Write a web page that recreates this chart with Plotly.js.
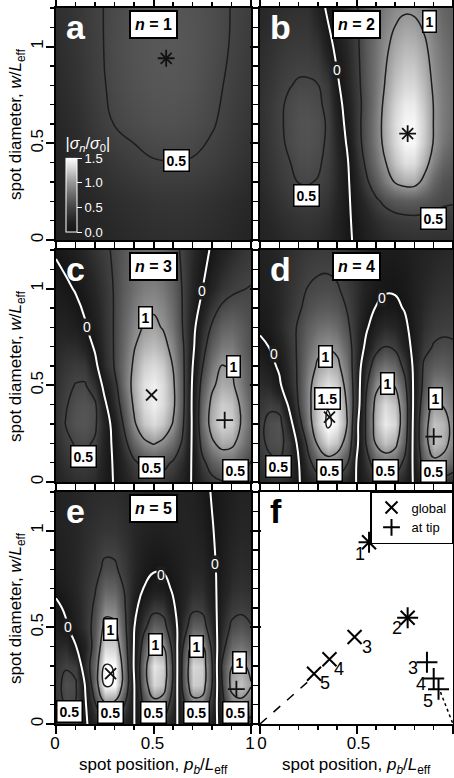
<!DOCTYPE html>
<html><head><meta charset="utf-8">
<script src="https://cdn.plot.ly/plotly-3.0.1.min.js"></script>
<style>html,body{margin:0;padding:0;background:#fff}#chart{width:454px;height:778px}</style>
</head><body><div id="chart"></div>
<script>
// ---------- data ----------
const posA = [0,0.1,0.2,0.3,0.4,0.5,0.6,0.7,0.8,0.9,1];
const diamA = [0,0.2,0.4,0.6,0.8,1.0,1.2];
const pos = [0,0.05,0.1,0.15,0.2,0.25,0.3,0.35,0.4,0.45,0.5,0.55,0.6,0.65,0.7,0.75,0.8,0.85,0.9,0.95,1];
const diam = [0,0.1,0.2,0.3,0.4,0.5,0.6,0.7,0.8,1.0,1.2];
const diamD = [0,0.1,0.2,0.3,0.4,0.5,0.6,0.7,0.8,0.9,1.0,1.2];

// signed sigma_n/sigma_0, rows = diameters, columns = positions
const sigma1 = [
 [0.18,0.20,0.23,0.26,0.29,0.31,0.32,0.31,0.29,0.26,0.22],
 [0.20,0.23,0.27,0.31,0.34,0.37,0.38,0.37,0.34,0.30,0.26],
 [0.22,0.27,0.34,0.40,0.45,0.49,0.495,0.49,0.45,0.39,0.33],
 [0.25,0.31,0.41,0.505,0.55,0.58,0.585,0.56,0.515,0.44,0.37],
 [0.28,0.35,0.45,0.54,0.59,0.62,0.625,0.60,0.54,0.47,0.40],
 [0.30,0.37,0.46,0.55,0.60,0.63,0.635,0.61,0.56,0.49,0.42],
 [0.32,0.38,0.47,0.54,0.59,0.62,0.62,0.60,0.56,0.495,0.44]
];
const sigma2 = [
 [-0.20,-0.23,-0.26,-0.29,-0.31,-0.32,-0.30,-0.26,-0.18,-0.06,0.05,0.15,0.23,0.28,0.31,0.33,0.34,0.34,0.34,0.33,0.33],
 [-0.22,-0.26,-0.30,-0.33,-0.36,-0.37,-0.35,-0.30,-0.20,-0.06,0.08,0.20,0.30,0.37,0.41,0.43,0.44,0.44,0.43,0.42,0.41],
 [-0.25,-0.30,-0.35,-0.40,-0.43,-0.44,-0.42,-0.36,-0.24,-0.07,0.14,0.30,0.45,0.56,0.63,0.66,0.66,0.62,0.57,0.53,0.52],
 [-0.28,-0.34,-0.40,-0.46,-0.505,-0.51,-0.49,-0.42,-0.27,-0.07,0.22,0.45,0.65,0.84,1.02,1.10,1.10,0.93,0.72,0.60,0.56],
 [-0.30,-0.37,-0.43,-0.49,-0.55,-0.56,-0.53,-0.45,-0.27,-0.05,0.30,0.55,0.78,0.99,1.20,1.34,1.33,1.12,0.88,0.72,0.63],
 [-0.32,-0.39,-0.46,-0.53,-0.58,-0.59,-0.56,-0.47,-0.24,0.02,0.38,0.61,0.85,1.08,1.30,1.46,1.46,1.24,0.98,0.82,0.72],
 [-0.33,-0.40,-0.47,-0.54,-0.59,-0.60,-0.57,-0.48,-0.20,0.08,0.40,0.62,0.86,1.10,1.32,1.46,1.46,1.26,0.99,0.85,0.76],
 [-0.34,-0.40,-0.47,-0.53,-0.57,-0.57,-0.54,-0.45,-0.15,0.14,0.40,0.60,0.84,1.07,1.28,1.40,1.40,1.22,0.99,0.85,0.77],
 [-0.33,-0.38,-0.44,-0.49,-0.52,-0.52,-0.505,-0.40,-0.06,0.20,0.42,0.62,0.82,1.02,1.20,1.30,1.30,1.16,0.96,0.84,0.76],
 [-0.30,-0.34,-0.38,-0.41,-0.42,-0.42,-0.36,-0.14,0.10,0.26,0.45,0.64,0.80,0.95,1.08,1.15,1.14,1.05,0.90,0.80,0.72],
 [-0.25,-0.28,-0.31,-0.33,-0.34,-0.33,-0.18,0.06,0.20,0.34,0.48,0.62,0.74,0.85,0.93,0.97,0.96,0.90,0.80,0.72,0.66]
];
const sigma3 = [
 [0.20,0.27,0.32,0.33,0.28,0.11,-0.02,-0.18,-0.32,-0.40,-0.42,-0.40,-0.32,-0.18,0.03,0.28,0.42,0.48,0.48,0.42,0.34],
 [0.25,0.35,0.42,0.43,0.37,0.14,-0.04,-0.25,-0.45,-0.58,-0.62,-0.58,-0.47,-0.28,0.04,0.42,0.65,0.78,0.77,0.64,0.49],
 [0.30,0.44,0.52,0.54,0.47,0.17,-0.08,-0.40,-0.72,-0.93,-1.02,-0.93,-0.76,-0.45,0.05,0.62,0.95,1.10,1.07,0.88,0.65],
 [0.34,0.51,0.60,0.62,0.55,0.20,-0.15,-0.55,-0.95,-1.22,-1.32,-1.22,-0.98,-0.55,0.05,0.75,1.12,1.30,1.25,0.98,0.72],
 [0.35,0.48,0.58,0.60,0.55,0.07,-0.32,-0.66,-1.05,-1.32,-1.42,-1.32,-1.08,-0.60,0.06,0.72,1.08,1.25,1.20,0.95,0.70],
 [0.33,0.44,0.51,0.52,0.32,-0.12,-0.40,-0.78,-1.10,-1.35,-1.42,-1.32,-1.06,-0.60,0.04,0.62,0.95,1.10,1.06,0.85,0.62],
 [0.30,0.38,0.42,0.40,0.10,-0.30,-0.52,-0.78,-1.05,-1.26,-1.32,-1.24,-0.99,-0.58,-0.01,0.48,0.82,1.01,0.98,0.80,0.60],
 [0.26,0.30,0.30,0.20,-0.05,-0.33,-0.52,-0.75,-0.98,-1.13,-1.18,-1.10,-0.90,-0.55,-0.08,0.38,0.68,0.84,0.85,0.72,0.56],
 [0.20,0.20,0.14,0.03,-0.15,-0.35,-0.52,-0.72,-0.90,-1.02,-1.06,-0.98,-0.80,-0.49,-0.12,0.28,0.54,0.70,0.73,0.66,0.56],
 [0.10,0.05,-0.02,-0.12,-0.25,-0.38,-0.52,-0.66,-0.78,-0.86,-0.88,-0.83,-0.70,-0.48,-0.22,-0.01,0.22,0.37,0.45,0.49,0.51],
 [-0.03,-0.10,-0.18,-0.27,-0.36,-0.45,-0.54,-0.63,-0.70,-0.74,-0.75,-0.70,-0.60,-0.45,-0.28,-0.11,0.04,0.18,0.28,0.35,0.40]
];
const sigma4 = [
 [0.27,0.33,0.35,0.27,0.03,-0.20,-0.36,-0.42,-0.38,-0.25,0.01,0.20,0.36,0.42,0.37,0.20,-0.04,-0.26,-0.37,-0.36,-0.30],
 [0.36,0.45,0.48,0.35,0.02,-0.40,-0.70,-0.85,-0.78,-0.55,0.01,0.35,0.68,0.80,0.72,0.42,-0.10,-0.65,-0.93,-0.88,-0.70],
 [0.44,0.55,0.58,0.40,-0.10,-0.60,-1.05,-1.30,-1.20,-0.85,-0.10,0.52,1.02,1.20,1.10,0.65,-0.15,-0.85,-1.20,-1.12,-0.88],
 [0.45,0.56,0.60,0.20,-0.35,-0.85,-1.25,-1.55,-1.42,-1.02,-0.12,0.55,1.15,1.40,1.30,0.75,-0.15,-0.85,-1.20,-1.15,-0.90],
 [0.38,0.46,0.40,-0.06,-0.52,-0.90,-1.25,-1.48,-1.38,-0.98,-0.25,0.55,1.10,1.32,1.20,0.75,-0.12,-0.72,-1.03,-0.98,-0.82],
 [0.30,0.26,0.06,-0.25,-0.55,-0.90,-1.20,-1.35,-1.25,-0.90,-0.25,0.45,0.92,1.08,0.98,0.60,-0.10,-0.60,-0.85,-0.85,-0.75],
 [0.20,0.10,-0.05,-0.30,-0.55,-0.82,-1.05,-1.15,-1.08,-0.80,-0.25,0.30,0.68,0.80,0.72,0.40,-0.10,-0.55,-0.66,-0.68,-0.62],
 [0.07,-0.01,-0.15,-0.35,-0.55,-0.75,-0.92,-0.97,-0.92,-0.70,-0.30,0.08,0.38,0.51,0.44,0.18,-0.12,-0.40,-0.52,-0.55,-0.53],
 [-0.05,-0.12,-0.25,-0.40,-0.53,-0.67,-0.77,-0.80,-0.75,-0.58,-0.30,-0.05,0.18,0.28,0.24,0.07,-0.14,-0.33,-0.42,-0.45,-0.45],
 [-0.10,-0.15,-0.25,-0.36,-0.47,-0.57,-0.63,-0.65,-0.61,-0.49,-0.32,-0.12,0.01,0.08,0.06,-0.02,-0.15,-0.28,-0.36,-0.39,-0.40],
 [-0.14,-0.18,-0.26,-0.35,-0.43,-0.51,-0.54,-0.55,-0.52,-0.44,-0.32,-0.18,-0.08,-0.03,-0.03,-0.07,-0.16,-0.25,-0.31,-0.34,-0.35],
 [-0.18,-0.21,-0.26,-0.32,-0.37,-0.40,-0.42,-0.42,-0.40,-0.35,-0.28,-0.20,-0.14,-0.11,-0.11,-0.13,-0.17,-0.21,-0.24,-0.26,-0.27]
];
const sigma5 = [
 [0.27,0.36,0.35,0.06,-0.21,-0.42,-0.41,-0.23,-0.01,0.25,0.42,0.39,0.15,-0.19,-0.41,-0.40,-0.17,0.15,0.37,0.40,0.34],
 [0.38,0.52,0.49,0.04,-0.46,-0.92,-0.90,-0.51,-0.02,0.52,0.85,0.78,0.30,-0.38,-0.83,-0.81,-0.34,0.34,0.83,0.90,0.77],
 [0.42,0.57,0.54,-0.02,-0.76,-1.52,-1.49,-0.84,-0.03,0.78,1.30,1.20,0.45,-0.58,-1.25,-1.22,-0.51,0.46,1.10,1.20,1.02],
 [0.35,0.48,0.42,-0.28,-0.76,-1.52,-1.49,-0.84,0.03,0.83,1.38,1.27,0.48,-0.60,-1.30,-1.26,-0.53,0.52,0.99,1.08,0.92],
 [0.25,0.30,0.02,-0.20,-0.65,-1.30,-1.27,-0.72,0.01,0.66,1.10,1.01,0.38,-0.49,-1.06,-1.03,-0.43,0.37,0.75,0.82,0.70],
 [0.14,0.05,-0.15,-0.35,-0.60,-1.10,-1.08,-0.62,-0.02,0.42,0.70,0.64,0.24,-0.32,-0.69,-0.67,-0.28,0.27,0.55,0.60,0.52],
 [0.08,-0.05,-0.20,-0.35,-0.55,-0.90,-0.88,-0.55,-0.12,0.22,0.42,0.39,0.06,-0.22,-0.44,-0.43,-0.18,0.20,0.41,0.45,0.40],
 [-0.08,-0.14,-0.24,-0.35,-0.48,-0.72,-0.70,-0.49,-0.22,0.01,0.14,0.12,-0.04,-0.18,-0.31,-0.31,-0.12,0.15,0.31,0.35,0.32],
 [-0.14,-0.18,-0.25,-0.33,-0.42,-0.55,-0.54,-0.42,-0.25,-0.10,-0.03,-0.03,-0.10,-0.18,-0.25,-0.24,-0.08,0.12,0.26,0.30,0.28],
 [-0.18,-0.21,-0.25,-0.30,-0.34,-0.38,-0.38,-0.33,-0.26,-0.20,-0.17,-0.17,-0.19,-0.21,-0.21,-0.16,-0.02,0.10,0.20,0.25,0.24],
 [-0.20,-0.22,-0.24,-0.27,-0.29,-0.30,-0.30,-0.28,-0.25,-0.22,-0.20,-0.20,-0.20,-0.20,-0.18,-0.10,0.02,0.10,0.16,0.20,0.20]
];

// optimum spot (position, diameter) for each mode n
const modeLabels = ['1','2','3','4','5'];
const globalPos = [0.565,0.765,0.49,0.36,0.28];
const globalDiam = [0.94,0.55,0.45,0.335,0.26];
const tipPos = [0.565,0.765,0.865,0.9,0.925];
const tipDiam = [0.94,0.55,0.32,0.235,0.18];
const globalTrendPos = [0,0.25];
const globalTrendDiam = [0,0.22];
const tipTrendPos = [0.935,1.0];
const tipTrendDiam = [0.165,0.0];

// ---------- styling ----------
const FONT = 'Liberation Sans, Arial, Helvetica, sans-serif';
// grey levels for |sigma| = 0, 0.25, ..., 1.5
const greyStops = [20, 38, 68, 105, 150, 205, 255];
const absScale = greyStops.map((g, i) => [i / 6, `rgb(${g},${g},${g})`]);
const signedScale = [];
for (let i = 6; i >= 1; i--) signedScale.push([0.5 - i / 12, absScale[i][1]]);
for (let i = 0; i <= 6; i++) signedScale.push([0.5 + i / 12, absScale[i][1]]);
const lineCol = '#1c1c1c';

const W = 454, H = 778;
const colX = [[56/W, 251/W],[260/W, 453/W]];
const rowY = [[1-240/H, 1-8/H],[1-482/H, 1-250/H],[1-724/H, 1-492/H]];

const panels = [
 {k:1, x:posA, y:diamA, z:sigma1},
 {k:2, x:pos, y:diam, z:sigma2},
 {k:3, x:pos, y:diam, z:sigma3},
 {k:4, x:pos, y:diamD, z:sigma4},
 {k:5, x:pos, y:diam, z:sigma5}
];

function ax(k){ return k===1 ? '' : String(k); }

const traces = [];
function contour(p, start, end, size, color, width){
  return {type:'contour', x:p.x, y:p.y, z:p.z, xaxis:'x'+ax(p.k), yaxis:'y'+ax(p.k),
    autocontour:false, contours:{start:start, end:end, size:size, coloring:'none', showlabels:false},
    line:{color:color, width:width, smoothing:1.3}, showscale:false, hoverinfo:'skip', showlegend:false};
}
panels.forEach(p => {
  const hm = {type:'heatmap', x:p.x, y:p.y, z:p.z, xaxis:'x'+ax(p.k), yaxis:'y'+ax(p.k),
    zsmooth:'best', hoverinfo:'skip', showlegend:false};
  if (p.k === 1) {
    Object.assign(hm, {colorscale:absScale, zmin:0, zmax:1.5, showscale:true,
      colorbar:{x:66/W, xanchor:'left', xref:'paper', y:1-232/H, yanchor:'bottom', yref:'paper',
        lenmode:'pixels', len:98, thickness:11, xpad:0, ypad:0,
        outlinecolor:'white', outlinewidth:1, bgcolor:'rgba(0,0,0,0)', borderwidth:0,
        tickvals:[0,0.5,1,1.5], ticktext:['0.0','0.5','1.0','1.5'], ticks:'outside', ticklen:5,
        tickcolor:'white', tickwidth:1, tickfont:{color:'white', size:13, family:FONT},
        title:{text:'|<i>σ<sub>n</sub></i>/<i>σ</i><sub>0</sub>|', side:'top', font:{color:'white', size:16, family:FONT}}}});
  } else {
    Object.assign(hm, {colorscale:signedScale, zmin:-1.5, zmax:1.5, showscale:false});
  }
  traces.push(hm);
  if (p.k > 1) traces.push(contour(p, -1.5, -0.5, 0.5, lineCol, 1.5));
  traces.push(contour(p, 0.5, 1.5, 0.5, lineCol, 1.5));
  if (p.k > 1) traces.push(contour(p, 0, 0, 1, 'white', 2));
  const i = p.k - 1;
  traces.push({type:'scatter', mode:'markers', x:[globalPos[i]], y:[globalDiam[i]], xaxis:'x'+ax(p.k), yaxis:'y'+ax(p.k),
    marker:{symbol:'x-thin', size:11, line:{width:1.8, color:'#111'}}, showlegend:false, hoverinfo:'skip'});
  traces.push({type:'scatter', mode:'markers', x:[tipPos[i]], y:[tipDiam[i]], xaxis:'x'+ax(p.k), yaxis:'y'+ax(p.k),
    marker:{symbol:'cross-thin', size:12, line:{width:1.8, color:'#111'}}, showlegend:false, hoverinfo:'skip'});
});

// panel f
traces.push({type:'scatter', mode:'lines', x:globalTrendPos, y:globalTrendDiam, xaxis:'x6', yaxis:'y6',
  line:{color:'black', width:1.5, dash:'dash'}, showlegend:false, hoverinfo:'skip'});
traces.push({type:'scatter', mode:'lines', x:tipTrendPos, y:tipTrendDiam, xaxis:'x6', yaxis:'y6',
  line:{color:'black', width:1.5, dash:'dot'}, showlegend:false, hoverinfo:'skip'});
traces.push({type:'scatter', mode:'markers', name:'global', x:globalPos, y:globalDiam, xaxis:'x6', yaxis:'y6',
  marker:{symbol:'x-thin', size:14, line:{width:2, color:'black'}}, hoverinfo:'skip'});
traces.push({type:'scatter', mode:'markers', name:'at tip', x:tipPos, y:tipDiam, xaxis:'x6', yaxis:'y6',
  marker:{symbol:'cross-thin', size:15, line:{width:2, color:'black'}}, hoverinfo:'skip'});

// ---------- axes ----------
const layout = {
  width:W, height:H, margin:{l:0,r:0,t:0,b:0}, paper_bgcolor:'white', plot_bgcolor:'white',
  font:{family:FONT, color:'black'}, showlegend:true,
  legend:{x:453/W, xanchor:'right', y:1-491/H, yanchor:'top', bgcolor:'white', bordercolor:'black', borderwidth:1.5,
    font:{size:13, family:FONT}, tracegroupgap:0, itemsizing:'constant', itemwidth:30},
  annotations:[]
};
function mkAxis(domain, anchor, isX, showLabels){
  const a = {domain:domain, anchor:anchor, range: isX ? [0,1] : [0,1.2],
    showline:true, linecolor:'black', linewidth:2, mirror:'ticks',
    ticks:'outside', ticklen:8, tickwidth:2, tickcolor:'black',
    tickmode:'linear', tick0:0, dtick:0.5,
    minor:{tickmode:'linear', tick0:0, dtick:0.1, ticks:'outside', ticklen:4, tickwidth:1.5, tickcolor:'black', showgrid:false},
    showgrid:false, zeroline:false, showticklabels:showLabels,
    ticklabelstandoff: isX ? -5 : -4,
    tickfont:{size:17, family:FONT}};
  if (!isX) a.tickangle = -90;
  return a;
}
const yTitle = 'spot diameter, <i>w</i>/<i>L</i><sub>eff</sub>';
const xTitle = 'spot position, <i>p<sub>b</sub></i>/<i>L</i><sub>eff</sub>';
for (let k = 1; k <= 6; k++) {
  const col = (k - 1) % 2, row = Math.floor((k - 1) / 2);
  layout['xaxis' + ax(k)] = mkAxis(colX[col], 'y' + ax(k), true, row === 2);
  layout['yaxis' + ax(k)] = mkAxis(rowY[row], 'x' + ax(k), false, col === 0);
  if (col === 0) layout.annotations.push({xref:'paper', x:17/W, xanchor:'center', yref:'y'+ax(k)+' domain', y:0.5, yanchor:'middle',
    textangle:-90, text:yTitle, showarrow:false, font:{size:17, family:FONT, color:'black'}});
  if (row === 2) layout.annotations.push({xref:'x'+ax(k)+' domain', x:0.5, xanchor:'center', yref:'paper', y:1-766/H, yanchor:'middle',
    text:xTitle, showarrow:false, font:{size:17, family:FONT, color:'black'}});
}
layout.xaxis6.ticklabelshift = 2;
layout.xaxis5.ticklabelshift = -1;

// ---------- annotations ----------
const letters = ['a','b','c','d','e','f'];
letters.forEach((L, i) => {
  const k = i + 1;
  layout.annotations.push({xref:'x'+ax(k)+' domain', yref:'y'+ax(k)+' domain', x:0.04, y:1.01, xanchor:'left', yanchor:'top',
    text:'<b>'+L+'</b>', showarrow:false, font:{size:34, family:FONT, color: k===6 ? 'black' : 'white'}});
  if (k <= 5) {
    layout.annotations.push({xref:'x'+ax(k)+' domain', yref:'y'+ax(k)+' domain', x:0.5, y:0.99, xanchor:'center', yanchor:'top',
      text:'<b><i>n</i> = '+k+'</b>', showarrow:false, bgcolor:'white', bordercolor:'black', borderwidth:2, borderpad:4,
      font:{size:16, family:FONT, color:'black'}});
  }
});
const levelLabels = {
 1:[[0.62,0.41,'0.5']],
 2:[[0.88,1.13,'1'],[0.24,0.23,'0.5'],[0.9,0.11,'0.5']],
 3:[[0.46,0.85,'1'],[0.91,0.6,'1'],[0.14,0.13,'0.5'],[0.49,0.075,'0.5'],[0.92,0.06,'0.5']],
 4:[[0.34,0.65,'1'],[0.35,0.43,'1.5'],[0.66,0.51,'1'],[0.91,0.43,'1'],[0.095,0.08,'0.5'],[0.36,0.06,'0.5'],[0.65,0.06,'0.5'],[0.9,0.055,'0.5']],
 5:[[0.28,0.49,'1'],[0.51,0.41,'1'],[0.72,0.4,'1'],[0.94,0.32,'1'],[0.07,0.065,'0.5'],[0.28,0.06,'0.5'],[0.5,0.06,'0.5'],[0.72,0.06,'0.5'],[0.92,0.06,'0.5']]
};
const zeroLabels = {
 2:[[0.4,0.88]],
 3:[[0.16,0.8],[0.747,0.99]],
 4:[[0.07,0.66],[0.63,0.95]],
 5:[[0.063,0.5],[0.54,0.77],[0.815,0.83]]
};
Object.keys(levelLabels).forEach(k => {
  levelLabels[k].forEach(l => layout.annotations.push({xref:'x'+ax(+k), yref:'y'+ax(+k), x:l[0], y:l[1], text:'<b>'+l[2]+'</b>',
    showarrow:false, bgcolor:'white', bordercolor:'black', borderwidth:1.5, borderpad:2, font:{size:14, family:FONT, color:'black'}}));
});
Object.keys(zeroLabels).forEach(k => {
  zeroLabels[k].forEach(l => layout.annotations.push({xref:'x'+ax(+k), yref:'y'+ax(+k), x:l[0], y:l[1], text:'0',
    showarrow:false, bgcolor:'#1e1e1e', borderpad:0, font:{size:14, family:FONT, color:'white'}}));
});
// mode numbers in panel f (offsets in pixels)
const globalShift = [[-9,-12],[-11,-10],[12,-10],[10,-10],[11,-9]];
const tipShift = [null,null,[-14,-6],[-13,-5],[-11,-12]];
modeLabels.forEach((t, i) => {
  layout.annotations.push({xref:'x6', yref:'y6', x:globalPos[i], y:globalDiam[i], text:t, showarrow:false,
    xshift:globalShift[i][0], yshift:globalShift[i][1], font:{size:18, family:FONT, color:'black'}});
  if (tipShift[i]) layout.annotations.push({xref:'x6', yref:'y6', x:tipPos[i], y:tipDiam[i], text:t, showarrow:false,
    xshift:tipShift[i][0], yshift:tipShift[i][1], font:{size:18, family:FONT, color:'black'}});
});

Plotly.newPlot('chart', traces, layout, {staticPlot:true, displayModeBar:false});
</script></body></html>
